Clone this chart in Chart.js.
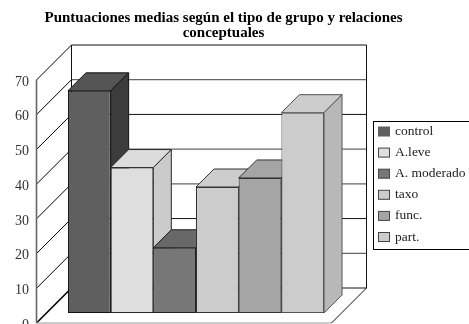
<!DOCTYPE html>
<html lang="es">
<head>
<meta charset="utf-8">
<style>
  html, body { margin: 0; padding: 0; background: #fff; overflow: hidden; }
  canvas { display: block; }
</style>
<script src="https://cdn.jsdelivr.net/npm/chart.js@4/dist/chart.umd.min.js"></script>
</head>
<body>
<canvas id="chart" width="469" height="324"></canvas>
<script>
// Series, one bar each
const seriesNames = ['control', 'A.leve', 'A. moderado', 'taxo', 'func.', 'part.'];
const seriesValues = [64, 41.9, 18.8, 36.3, 38.9, 57.7];
const categories = [''];
const titleLines = ['Puntuaciones medias según el tipo de grupo y relaciones', 'conceptuales'];

// Face shades for each bar
const frontColors = ['#5f5f5f', '#dedede', '#777777', '#cccccc', '#a5a5a5', '#cccccc'];
const topColors = ['#555555', '#dcdcdc', '#686868', '#cdcdcd', '#a5a5a5', '#cdcdcd'];
const sideColors = ['#3c3c3c', '#cbcbcb', '#5a5a5a', '#b8b8b8', '#8c8c8c', '#b8b8b8'];
const edgeColors = ['#111111', '#2a2a2a', '#222222', '#333333', '#333333', '#555555'];

// Back-wall gridlines that print lighter
const lightGridValues = [10, 30, 40, 60];

const FONT = '"Liberation Serif", "Times New Roman", serif';
const WALL_DEPTH = 35;   // depth of the box the bars stand in
const BAR_DEPTH = 18;    // depth of each bar
const BAR_SHIFT_X = 12;  // bars stand inside the box, away from the front edge
const BAR_SHIFT_Y = 10;

function line(ctx, x1, y1, x2, y2, color, width) {
  ctx.beginPath();
  ctx.moveTo(x1, y1);
  ctx.lineTo(x2, y2);
  ctx.strokeStyle = color;
  ctx.lineWidth = width || 1;
  ctx.stroke();
}

function poly(ctx, pts, fill, stroke) {
  ctx.beginPath();
  pts.forEach((p, i) => i ? ctx.lineTo(p[0], p[1]) : ctx.moveTo(p[0], p[1]));
  ctx.closePath();
  ctx.fillStyle = fill;
  ctx.fill();
  ctx.strokeStyle = stroke;
  ctx.lineWidth = 1;
  ctx.stroke();
}

// Box walls, floor and gridlines, projected from the value axis, then the
// bars painted left to right so each one overlaps the side of its neighbour
const boxPlugin = {
  id: 'box',
  beforeDatasetsDraw(chart) {
    const { ctx, chartArea: a, scales: { y } } = chart;
    const d = WALL_DEPTH;
    ctx.save();
    y.ticks.forEach(t => {
      const py = y.getPixelForValue(t.value);
      const strong = t.value === 0;
      const light = lightGridValues.includes(t.value);
      line(ctx, a.left, py, a.left + d, py - d, '#000', strong ? 1.6 : 1);
      line(ctx, a.left + d, py - d, a.right + d, py - d, light ? '#666' : '#111', light ? 1.3 : 1);
    });
    const top = y.getPixelForValue(70), base = y.getPixelForValue(0);
    line(ctx, a.left + d, top - d, a.left + d, base - d, '#111', 1);
    line(ctx, a.right + d, top - d, a.right + d, base - d, '#111', 1);
    line(ctx, a.left, top, a.left, base, '#666', 1.6);
    line(ctx, a.left, base, a.right, base, '#999', 1);
    line(ctx, a.right, base, a.right + d, base - d, '#111', 1);

    ctx.translate(BAR_SHIFT_X, -BAR_SHIFT_Y);
    seriesNames.forEach((name, i) => {
      const meta = chart.getDatasetMeta(i);
      meta.controller.draw();
      const b = meta.data[0];
      const l = b.x - b.width / 2, r = b.x + b.width / 2, t = b.y, g = b.base, k = BAR_DEPTH;
      poly(ctx, [[l, t], [l + k, t - k], [r + k, t - k], [r, t]], topColors[i], edgeColors[i]);
      poly(ctx, [[r, t], [r + k, t - k], [r + k, g - k], [r, g]], sideColors[i], edgeColors[i]);
    });
    ctx.restore();
  },
  // Bars are already painted in the pass above
  beforeDatasetDraw() {
    return false;
  }
};

// Heading and boxed key
const textPlugin = {
  id: 'texts',
  afterDraw(chart) {
    const { ctx } = chart;
    ctx.save();
    ctx.fillStyle = '#000';
    ctx.textAlign = 'center';
    ctx.textBaseline = 'middle';
    ctx.font = 'bold 15px ' + FONT;
    ctx.fillText(titleLines[0], 223.5, 18);
    ctx.fillText(titleLines[1], 223.5, 33);

    ctx.strokeStyle = '#000';
    ctx.lineWidth = 1;
    ctx.strokeRect(373.5, 121.5, 100, 128);
    ctx.textAlign = 'left';
    ctx.font = '13.5px ' + FONT;
    seriesNames.forEach((name, i) => {
      const cy = 131.5 + i * 21.1;
      ctx.fillStyle = frontColors[i];
      ctx.fillRect(378.5, cy - 4.5, 11, 9);
      ctx.strokeStyle = i === 0 ? frontColors[0] : '#444';
      ctx.strokeRect(378.5, cy - 4.5, 11, 9);
      ctx.fillStyle = '#222';
      ctx.fillText(name, 395, cy);
    });
    ctx.restore();
  }
};

new Chart(document.getElementById('chart'), {
  type: 'bar',
  data: {
    labels: categories,
    datasets: seriesNames.map((name, i) => ({
      label: name,
      data: [seriesValues[i]],
      backgroundColor: frontColors[i],
      borderColor: edgeColors[i],
      borderWidth: 1,
      borderSkipped: false,
      clip: false
    }))
  },
  options: {
    responsive: false,
    animation: false,
    layout: { autoPadding: false, padding: { top: 80, left: 0, right: 137.5, bottom: 1 } },
    plugins: { legend: { display: false }, title: { display: false }, tooltip: { enabled: false } },
    datasets: { bar: { categoryPercentage: 0.868, barPercentage: 1 } },
    scales: {
      x: {
        afterFit(scale) { scale.height = 0; },
        grid: { display: false, drawTicks: false },
        border: { display: false },
        ticks: { display: false }
      },
      y: {
        min: 0,
        max: 70,
        afterFit(scale) {
          // The lowest label may run off the bottom of the canvas
          scale.width = 36.5;
          scale.paddingTop = 0;
          scale.paddingBottom = 0;
        },
        grid: { display: false, drawTicks: false },
        border: { display: false },
        ticks: {
          stepSize: 10,
          padding: 7.5,
          labelOffset: 2,
          color: '#333',
          font: { family: FONT, size: 14 }
        }
      }
    }
  },
  plugins: [boxPlugin, textPlugin]
});
</script>
</body>
</html>
